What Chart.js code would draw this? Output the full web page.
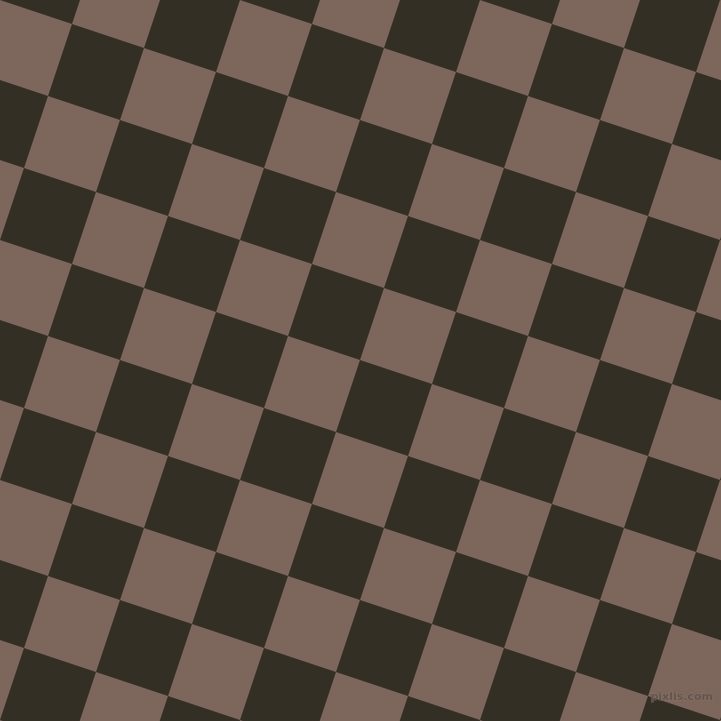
<!DOCTYPE html>
<html>
<head>
<meta charset="utf-8">
<script src="https://cdn.jsdelivr.net/npm/chart.js@4/dist/chart.umd.min.js"></script>
<style>
  html, body { margin: 0; padding: 0; background: #342f24; }
  #wrap { width: 721px; height: 721px; position: relative; }
</style>
</head>
<body>
<div id="wrap"><canvas id="board"></canvas></div>
<script>
// Lattice steps along the two square edges (u goes right-down, v goes left-down)
const uSteps = [-2, -1, 0, 1, 2, 3, 4, 5, 6, 7, 8, 9, 10, 11];
const vSteps = [-4, -3, -2, -1, 0, 1, 2, 3, 4, 5, 6, 7, 8, 9, 10];
const tileNames = ['dark', 'brown'];
const tileColors = ['#342f24', '#7d665c'];

// Geometry of the tilted board (pixels)
const origin = { x: 72, y: 24 };
const edge = { x: 72, y: 24 };           // one square edge vector
const side = Math.hypot(edge.x, edge.y);
const angle = Math.atan2(edge.y, edge.x) * 180 / Math.PI;

// Build cell centres for each colour
const cells = { dark: [], brown: [] };
uSteps.forEach(i => {
    vSteps.forEach(j => {
        const a = i + 0.5, b = j + 0.5;
        const pt = {
            x: origin.x + a * edge.x - b * edge.y,
            y: origin.y + a * edge.y + b * edge.x
        };
        const key = ((i + j) % 2 === 0) ? 'dark' : 'brown';
        cells[key].push(pt);
    });
});

const bgPlugin = {
    id: 'bg',
    beforeDraw(chart) {
        const { ctx, width, height } = chart;
        ctx.save();
        ctx.fillStyle = tileColors[0];
        ctx.fillRect(0, 0, width, height);
        ctx.restore();
    },
    afterDraw(chart) {
        // faint site mark in the corner
        const { ctx, width, height } = chart;
        ctx.save();
        ctx.font = 'bold 11px "DejaVu Sans", sans-serif';
        ctx.textAlign = 'right';
        ctx.textBaseline = 'middle';
        ctx.lineWidth = 1;
        ctx.strokeStyle = 'rgba(150, 130, 120, 0.5)';
        ctx.strokeText('pixlis.com', width - 8, height - 24);
        ctx.fillStyle = 'rgba(95, 82, 75, 0.9)';
        ctx.fillText('pixlis.com', width - 8, height - 24);
        ctx.restore();
    }
};

function makeSet(idx, order) {
    return {
        label: tileNames[idx],
        data: cells[tileNames[idx]],
        pointStyle: 'rect',
        rotation: angle,
        pointRadius: side / Math.SQRT2,
        pointHoverRadius: side / Math.SQRT2,
        pointBackgroundColor: tileColors[idx],
        pointBorderColor: tileColors[idx],
        pointBorderWidth: 0,
        showLine: false,
        clip: false,
        order: order
    };
}

new Chart(document.getElementById('board').getContext('2d'), {
    type: 'scatter',
    data: {
        datasets: [makeSet(1, 0), makeSet(0, 1)]
    },
    options: {
        responsive: true,
        maintainAspectRatio: false,
        animation: false,
        events: [],
        layout: { padding: 0, autoPadding: false },
        plugins: {
            legend: { display: false },
            tooltip: { enabled: false }
        },
        scales: {
            x: { type: 'linear', min: 0, max: 721, display: false },
            y: { type: 'linear', min: 0, max: 721, reverse: true, display: false }
        }
    },
    plugins: [bgPlugin]
});
</script>
</body>
</html>
